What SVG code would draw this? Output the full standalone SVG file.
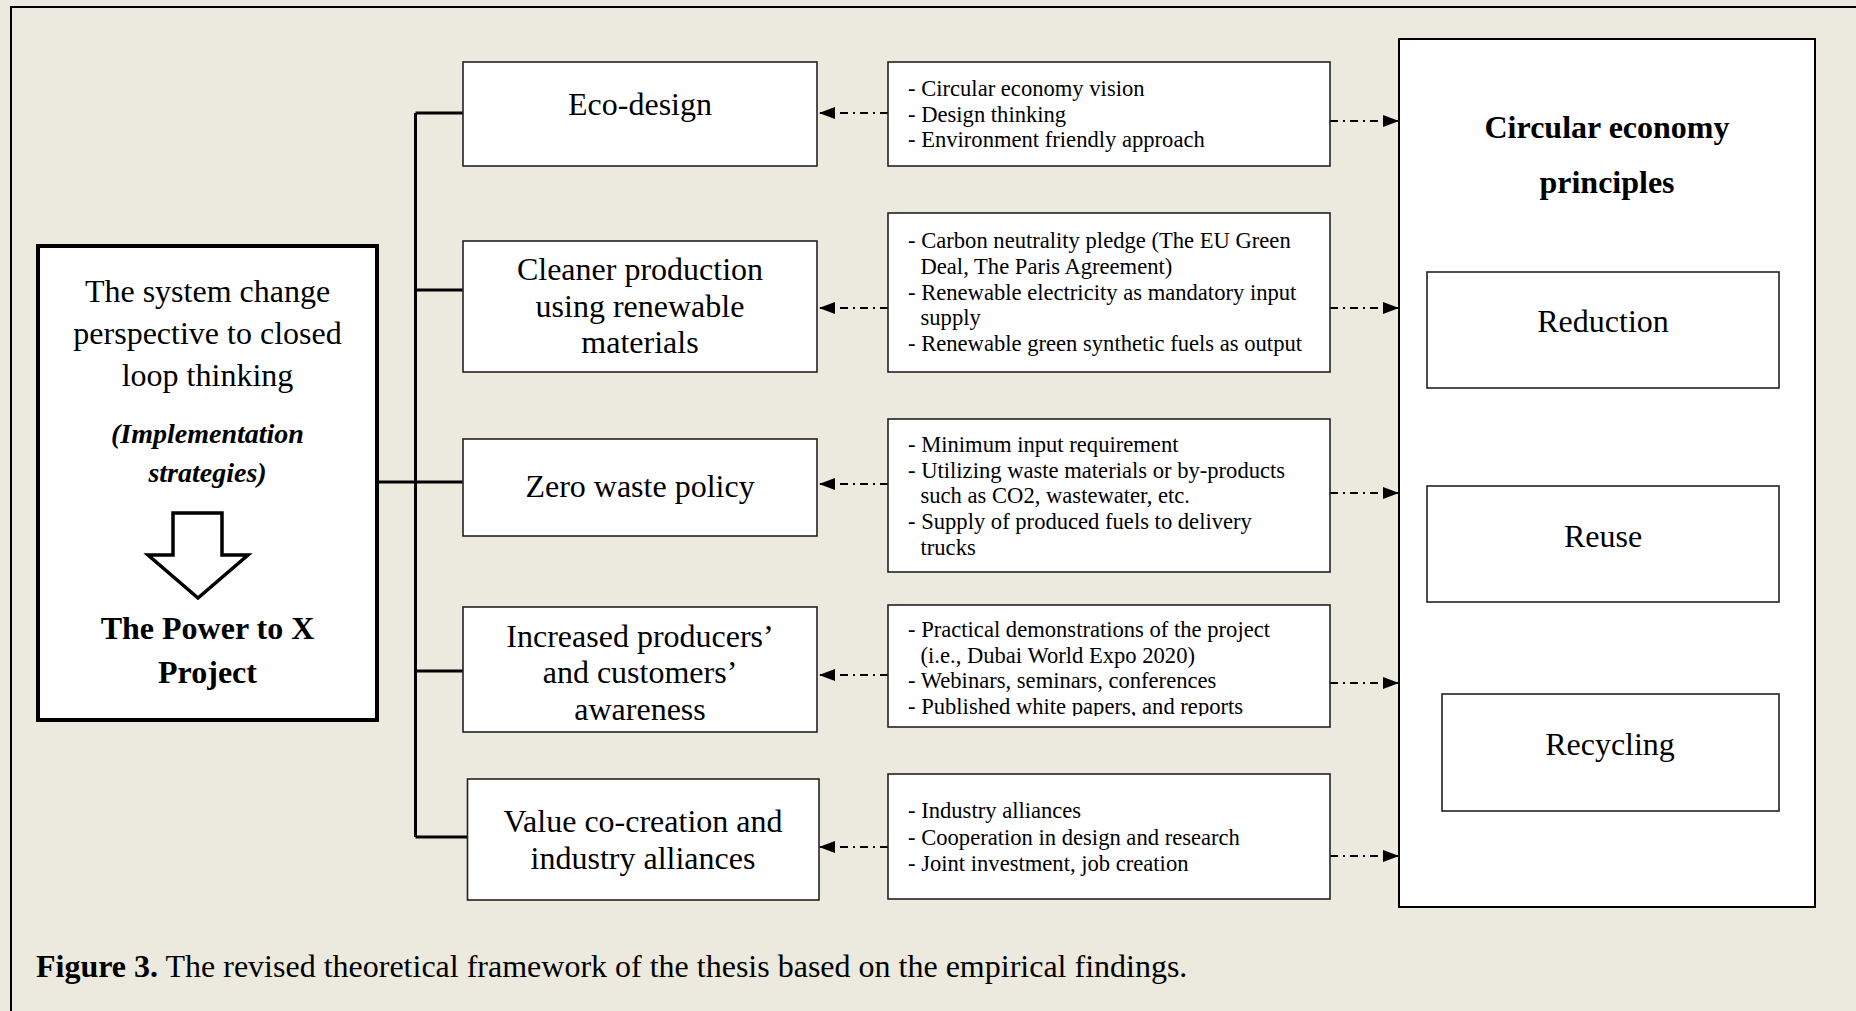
<svg xmlns="http://www.w3.org/2000/svg" width="1856" height="1011" viewBox="0 0 1856 1011">
<defs>
<style>
.t{font-family:"Liberation Serif","Times New Roman",serif;fill:#000}
.big{font-size:32px}
.bul{font-size:22.6px}
.box{fill:#fff;stroke:#222;stroke-width:1.6}
.bus{fill:none;stroke:#000;stroke-width:3}
.dd{fill:none;stroke:#000;stroke-width:1.8;stroke-dasharray:8 5 2 5}
</style>
<marker id="ah" viewBox="0 0 16 12" refX="16" refY="6" markerWidth="16" markerHeight="12" markerUnits="userSpaceOnUse" orient="auto">
<path d="M0,0 L16,6 L0,12 z" fill="#000"/>
</marker>
<clipPath id="clip4"><rect x="886" y="600" width="446" height="116"/></clipPath>
</defs>
<rect x="0" y="0" width="1856" height="1011" fill="#ECE9DF"/>
<path d="M11,1011 V7 H1856" fill="none" stroke="#000" stroke-width="2"/>

<g id="connectors">
<path class="bus" d="M377,482 H415.5"/>
<path class="bus" d="M415.5,113 V837"/>
<path class="bus" d="M415.5,113 H463"/>
<path class="bus" d="M415.5,290 H463"/>
<path class="bus" d="M415.5,482 H463"/>
<path class="bus" d="M415.5,671 H463"/>
<path class="bus" d="M415.5,837 H467.5"/>
<path class="dd" d="M888,113 H819" marker-end="url(#ah)"/>
<path class="dd" d="M888,308 H819" marker-end="url(#ah)"/>
<path class="dd" d="M888,484 H819" marker-end="url(#ah)"/>
<path class="dd" d="M888,675 H819" marker-end="url(#ah)"/>
<path class="dd" d="M888,847 H819" marker-end="url(#ah)"/>
<path class="dd" d="M1330,121 H1399" marker-end="url(#ah)"/>
<path class="dd" d="M1330,308 H1399" marker-end="url(#ah)"/>
<path class="dd" d="M1330,493 H1399" marker-end="url(#ah)"/>
<path class="dd" d="M1330,683 H1399" marker-end="url(#ah)"/>
<path class="dd" d="M1330,856 H1399" marker-end="url(#ah)"/>
</g>

<g id="system-change">
<rect x="38" y="246" width="339" height="474" fill="#fff" stroke="#000" stroke-width="4"/>
<text class="t big" text-anchor="middle" x="207.5"><tspan x="207.5" y="302">The system change</tspan><tspan x="207.5" y="344">perspective to closed</tspan><tspan x="207.5" y="386">loop thinking</tspan></text>
<text class="t" font-size="28" font-weight="bold" font-style="italic" text-anchor="middle"><tspan x="207.5" y="443">(Implementation</tspan><tspan x="207.5" y="482">strategies)</tspan></text>
<polygon points="173,513 222,513 222,555 248,555 198,598 148,555 173,555" fill="#fff" stroke="#000" stroke-width="3.5"/>
<text class="t big" font-weight="bold" text-anchor="middle"><tspan x="207.5" y="639">The Power to X</tspan><tspan x="207.5" y="683">Project</tspan></text>
</g>

<g id="eco-design">
<rect class="box" x="463" y="62" width="354" height="104"/>
<text class="t big" text-anchor="middle" x="640" y="115">Eco-design</text>
</g>
<g id="cleaner-production">
<rect class="box" x="463" y="241" width="354" height="131"/>
<text class="t big" text-anchor="middle"><tspan x="640" y="280">Cleaner production</tspan><tspan x="640" y="317">using renewable</tspan><tspan x="640" y="353">materials</tspan></text>
</g>
<g id="zero-waste">
<rect class="box" x="463" y="439" width="354" height="97"/>
<text class="t big" text-anchor="middle" x="640" y="497">Zero waste policy</text>
</g>
<g id="awareness">
<rect class="box" x="463" y="607" width="354" height="125"/>
<text class="t big" text-anchor="middle"><tspan x="640" y="647">Increased producers’</tspan><tspan x="640" y="683">and customers’</tspan><tspan x="640" y="720">awareness</tspan></text>
</g>
<g id="value-cocreation">
<rect class="box" x="467.5" y="779" width="351.5" height="121"/>
<text class="t big" text-anchor="middle"><tspan x="643" y="832">Value co-creation and</tspan><tspan x="643" y="869">industry alliances</tspan></text>
</g>

<g id="bullets-eco">
<rect class="box" x="888" y="62" width="442" height="104"/>
<text class="t bul"><tspan x="908" y="96">- Circular economy vision</tspan><tspan x="908" y="122">- Design thinking</tspan><tspan x="908" y="147">- Environment friendly approach</tspan></text>
</g>
<g id="bullets-cleaner">
<rect class="box" x="888" y="213" width="442" height="159"/>
<text class="t bul"><tspan x="908" y="248">- Carbon neutrality pledge (The EU Green</tspan><tspan x="920.5" y="274">Deal, The Paris Agreement)</tspan><tspan x="908" y="300">- Renewable electricity as mandatory input</tspan><tspan x="920.5" y="325">supply</tspan><tspan x="908" y="351">- Renewable green synthetic fuels as output</tspan></text>
</g>
<g id="bullets-zero">
<rect class="box" x="888" y="419" width="442" height="153"/>
<text class="t bul"><tspan x="908" y="452">- Minimum input requirement</tspan><tspan x="908" y="478">- Utilizing waste materials or by-products</tspan><tspan x="920.5" y="503">such as CO2, wastewater, etc.</tspan><tspan x="908" y="529">- Supply of produced fuels to delivery</tspan><tspan x="920.5" y="555">trucks</tspan></text>
</g>
<g id="bullets-awareness">
<rect class="box" x="888" y="605" width="442" height="122"/>
<text class="t bul" clip-path="url(#clip4)"><tspan x="908" y="637">- Practical demonstrations of the project</tspan><tspan x="920.5" y="663">(i.e., Dubai World Expo 2020)</tspan><tspan x="908" y="688">- Webinars, seminars, conferences</tspan><tspan x="908" y="714">- Published white papers, and reports</tspan></text>
</g>
<g id="bullets-value">
<rect class="box" x="888" y="774" width="442" height="125"/>
<text class="t bul"><tspan x="908" y="818">- Industry alliances</tspan><tspan x="908" y="845">- Cooperation in design and research</tspan><tspan x="908" y="871">- Joint investment, job creation</tspan></text>
</g>

<g id="circular-economy-principles">
<rect x="1399" y="39" width="416" height="868" fill="#fff" stroke="#000" stroke-width="2"/>
<text class="t big" font-weight="bold" text-anchor="middle"><tspan x="1607" y="138">Circular economy</tspan><tspan x="1607" y="193">principles</tspan></text>
</g>
<g id="reduction">
<rect class="box" x="1427" y="272" width="352" height="116"/>
<text class="t big" text-anchor="middle" x="1603" y="332">Reduction</text>
</g>
<g id="reuse">
<rect class="box" x="1427" y="486" width="352" height="116"/>
<text class="t big" text-anchor="middle" x="1603" y="547">Reuse</text>
</g>
<g id="recycling">
<rect class="box" x="1442" y="694" width="337" height="117"/>
<text class="t big" text-anchor="middle" x="1610" y="755">Recycling</text>
</g>

<text class="t big" x="36" y="977"><tspan font-weight="bold">Figure 3.</tspan> The revised theoretical framework of the thesis based on the empirical findings.</text>
</svg>
